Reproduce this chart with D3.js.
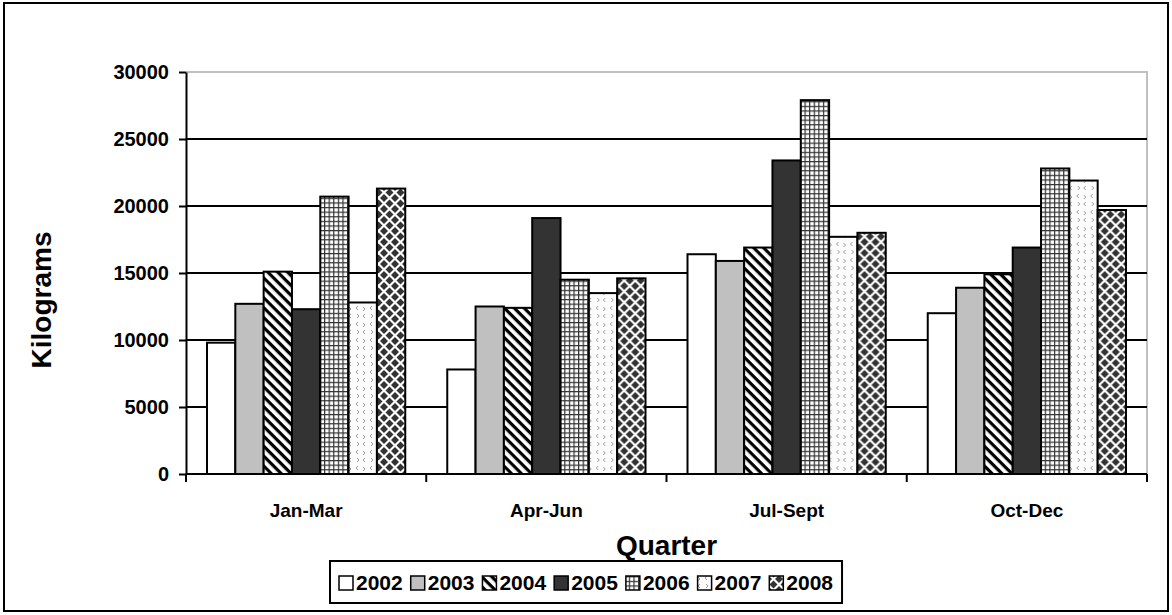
<!DOCTYPE html>
<html>
<head>
<meta charset="utf-8">
<script src="https://cdn.jsdelivr.net/npm/d3@7"></script>
<style>
  html, body { margin: 0; padding: 0; background: #fff; }
  svg text { font-family: "Liberation Sans", Arial, sans-serif; font-weight: bold; fill: #000; }
</style>
</head>
<body>
<div id="chart"></div>
<script>
// Quarterly kilograms by year — grouped bar chart with Excel-like fill patterns

var quarters = ["Jan-Mar", "Apr-Jun", "Jul-Sept", "Oct-Dec"];
var years = ["2002", "2003", "2004", "2005", "2006", "2007", "2008"];

var v2002 = [9800, 7800, 16400, 12000];
var v2003 = [12700, 12500, 15900, 13900];
var v2004 = [15100, 12400, 16900, 14900];
var v2005 = [12300, 19100, 23400, 16900];
var v2006 = [20700, 14500, 27900, 22800];
var v2007 = [12800, 13500, 17700, 21900];
var v2008 = [21300, 14600, 18000, 19700];

var yTicks = [0, 5000, 10000, 15000, 20000, 25000, 30000];

var seriesValues = [v2002, v2003, v2004, v2005, v2006, v2007, v2008];

var W = 1172, H = 615;
var plot = { left: 186, right: 1147, top: 72, bottom: 474 };

var svg = d3.select("#chart").append("svg")
    .attr("width", W)
    .attr("height", H);

// --- Patterns ---
var defs = svg.append("defs");

// 2004: diagonal stripes running top-left to bottom-right
var pStripe = defs.append("pattern")
    .attr("id", "p2004")
    .attr("patternUnits", "userSpaceOnUse")
    .attr("width", 7).attr("height", 7)
    .attr("patternTransform", "rotate(45)");
pStripe.append("rect").attr("width", 7).attr("height", 7).attr("fill", "#fff");
pStripe.append("rect").attr("x", 0).attr("y", 0).attr("width", 7).attr("height", 3.2).attr("fill", "#000");

// 2006: small grid
var pGrid = defs.append("pattern")
    .attr("id", "p2006")
    .attr("patternUnits", "userSpaceOnUse")
    .attr("width", 4.6).attr("height", 4.6);
pGrid.append("rect").attr("width", 4.6).attr("height", 4.6).attr("fill", "#fff");
pGrid.append("rect").attr("width", 4.6).attr("height", 1.2).attr("fill", "#333");
pGrid.append("rect").attr("width", 1.2).attr("height", 4.6).attr("fill", "#333");

// 2007: light confetti marks
var pConf = defs.append("pattern")
    .attr("id", "p2007")
    .attr("patternUnits", "userSpaceOnUse")
    .attr("width", 14).attr("height", 16);
pConf.append("rect").attr("width", 14).attr("height", 16).attr("fill", "#fbfbfb");
pConf.append("path").attr("d", "M4,2 L2,4 L4,6").attr("fill", "none").attr("stroke", "#999").attr("stroke-width", 1);
pConf.append("path").attr("d", "M9,3 L11,5 L9,7").attr("fill", "none").attr("stroke", "#999").attr("stroke-width", 1);
pConf.append("path").attr("d", "M3,10 L5,12 L3,14").attr("fill", "none").attr("stroke", "#999").attr("stroke-width", 1);
pConf.append("path").attr("d", "M11,10 L9,12 L11,14").attr("fill", "none").attr("stroke", "#999").attr("stroke-width", 1);

// 2008: dark diamonds on white
var pDia = defs.append("pattern")
    .attr("id", "p2008")
    .attr("patternUnits", "userSpaceOnUse")
    .attr("width", 11).attr("height", 11);
pDia.append("rect").attr("width", 11).attr("height", 11).attr("fill", "#fff");
var dh = 4;
var diamondCenters = [[5.5, 5.5], [0, 0], [11, 0], [0, 11], [11, 11]];
pDia.selectAll("path")
    .data(diamondCenters)
    .join("path")
    .attr("d", function(c) {
        return "M" + c[0] + "," + (c[1] - dh) + " L" + (c[0] + dh) + "," + c[1] +
               " L" + c[0] + "," + (c[1] + dh) + " L" + (c[0] - dh) + "," + c[1] + " Z";
    })
    .attr("fill", "#333");

var fills = ["#ffffff", "#c0c0c0", "url(#p2004)", "#333333", "url(#p2006)", "url(#p2007)", "url(#p2008)"];

// --- Outer border ---
svg.append("rect")
    .attr("x", 4).attr("y", 3)
    .attr("width", 1164).attr("height", 608)
    .attr("fill", "#fff")
    .attr("stroke", "#000")
    .attr("stroke-width", 2);

// --- Scales ---
var x0 = d3.scaleBand()
    .domain(quarters)
    .range([plot.left, plot.right])
    .paddingInner(0).paddingOuter(0);

var x1 = d3.scaleBand()
    .domain(years)
    .range([21, x0.bandwidth() - 21])
    .padding(0);

var y = d3.scaleLinear()
    .domain([0, 30000])
    .range([plot.bottom, plot.top]);

// --- Plot frame (grey top/right) ---
svg.append("path")
    .attr("d", "M" + plot.left + "," + y(30000) + "H" + plot.right + "V" + plot.bottom)
    .attr("fill", "none")
    .attr("stroke", "#c0c0c0")
    .attr("stroke-width", 2);

// --- Grid lines ---
svg.append("g")
    .selectAll("line")
    .data(yTicks.filter(function(d) { return d > 0 && d < 30000; }))
    .join("line")
    .attr("x1", plot.left).attr("x2", plot.right)
    .attr("y1", function(d) { return y(d); })
    .attr("y2", function(d) { return y(d); })
    .attr("stroke", "#000")
    .attr("stroke-width", 2);

// --- Bars ---
var groups = svg.append("g")
    .selectAll("g")
    .data(quarters)
    .join("g")
    .attr("transform", function(d) { return "translate(" + x0(d) + ",0)"; });

groups.selectAll("rect")
    .data(function(q, qi) {
        return years.map(function(yr, si) {
            return { year: yr, si: si, value: seriesValues[si][qi] };
        });
    })
    .join("rect")
    .attr("x", function(d) { return x1(d.year); })
    .attr("y", function(d) { return y(d.value); })
    .attr("width", x1.bandwidth())
    .attr("height", function(d) { return y(0) - y(d.value); })
    .attr("fill", function(d) { return fills[d.si]; })
    .attr("stroke", "#000")
    .attr("stroke-width", 2);

// --- Y axis ---
var yAxis = svg.append("g")
    .attr("transform", "translate(" + plot.left + ",0)")
    .call(d3.axisLeft(y).tickValues(yTicks).tickFormat(d3.format("d"))
        .tickSize(7).tickPadding(10).tickSizeOuter(0));
yAxis.select(".domain").attr("stroke", "#000").attr("stroke-width", 2);
yAxis.selectAll(".tick line").attr("stroke", "#000").attr("stroke-width", 2);
yAxis.selectAll("text")
    .style("font-size", "20px")
    .style("font-family", "'Liberation Sans', Arial, sans-serif")
    .style("font-weight", "bold");

// --- X axis ---
var xAxisG = svg.append("g")
    .attr("transform", "translate(0," + plot.bottom + ")");
xAxisG.append("line")
    .attr("x1", plot.left).attr("x2", plot.right)
    .attr("stroke", "#000").attr("stroke-width", 2);
var bounds = quarters.map(function(q) { return x0(q); }).concat([plot.right]);
xAxisG.selectAll(".xtick")
    .data(bounds)
    .join("line")
    .attr("class", "xtick")
    .attr("x1", function(d) { return d; }).attr("x2", function(d) { return d; })
    .attr("y1", 0).attr("y2", 8)
    .attr("stroke", "#000").attr("stroke-width", 2);
xAxisG.selectAll(".xlabel")
    .data(quarters)
    .join("text")
    .attr("class", "xlabel")
    .attr("x", function(d) { return x0(d) + x0.bandwidth() / 2; })
    .attr("y", 43)
    .attr("text-anchor", "middle")
    .style("font-size", "19px")
    .text(function(d) { return d; });

// --- Axis titles ---
svg.append("text")
    .attr("transform", "translate(51,300) rotate(-90)")
    .attr("text-anchor", "middle")
    .style("font-size", "28px")
    .text("Kilograms");

svg.append("text")
    .attr("x", (plot.left + plot.right) / 2)
    .attr("y", 555)
    .attr("text-anchor", "middle")
    .style("font-size", "28px")
    .text("Quarter");

// --- Legend ---
var legend = svg.append("g");
var legendBox = legend.append("rect")
    .attr("fill", "#fff")
    .attr("stroke", "#000")
    .attr("stroke-width", 2);

var lx = 0, gap = 8;
var items = legend.selectAll("g.item")
    .data(years)
    .join("g")
    .attr("class", "item");
items.each(function(d, i) {
    var it = d3.select(this);
    it.append("rect")
        .attr("x", lx).attr("y", -14)
        .attr("width", 14).attr("height", 14)
        .attr("fill", fills[i])
        .attr("stroke", "#000")
        .attr("stroke-width", 1.5);
    var t = it.append("text")
        .attr("x", lx + 17)
        .attr("y", 0)
        .style("font-size", "21px")
        .text(d);
    lx += 17 + t.node().getComputedTextLength() + gap;
});
var legendW = lx - gap;
var legendH = 42, pad = 9, legendTop = 561;
var legendLeft = Math.round(W / 2 - (legendW + pad * 2) / 2);
items.attr("transform", "translate(" + (legendLeft + pad) + "," + (legendTop + legendH / 2 + 8) + ")");
legendBox
    .attr("x", legendLeft).attr("y", legendTop)
    .attr("width", legendW + pad * 2).attr("height", legendH);
</script>
</body>
</html>
